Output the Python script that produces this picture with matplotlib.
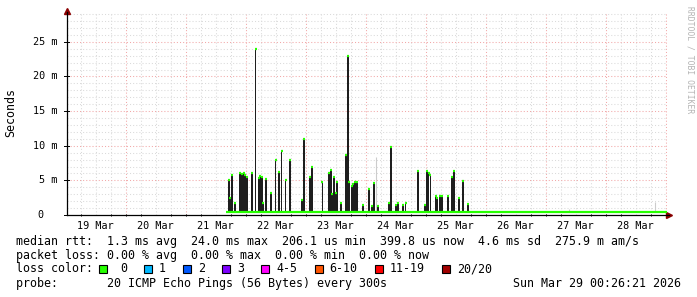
import matplotlib
matplotlib.use("Agg")
import matplotlib.pyplot as plt
import matplotlib.dates as mdates
import pandas as pd
from matplotlib.patches import Rectangle

# median rtt spikes (time, ms)
spike_times = [
    "2026-03-21 17:14", "2026-03-21 17:46", "2026-03-21 18:40", "2026-03-21 19:45",
    "2026-03-21 21:45", "2026-03-21 22:34", "2026-03-21 23:21", "2026-03-21 23:57",
    "2026-03-22 00:33", "2026-03-22 02:33", "2026-03-22 03:58", "2026-03-22 05:10",
    "2026-03-22 05:46", "2026-03-22 06:33", "2026-03-22 07:05", "2026-03-22 08:02",
    "2026-03-22 10:02", "2026-03-22 12:01", "2026-03-22 13:21", "2026-03-22 14:25",
    "2026-03-22 16:01", "2026-03-22 17:45", "2026-03-22 22:40", "2026-03-22 23:21",
    "2026-03-23 01:45", "2026-03-23 02:26", "2026-03-23 06:45", "2026-03-23 09:22",
    "2026-03-23 10:02", "2026-03-23 10:33", "2026-03-23 11:14", "2026-03-23 12:01",
    "2026-03-23 12:26", "2026-03-23 14:02", "2026-03-23 16:02", "2026-03-23 16:50",
    "2026-03-23 17:21", "2026-03-23 18:33", "2026-03-23 19:09", "2026-03-23 19:45",
    "2026-03-23 20:40", "2026-03-23 23:05", "2026-03-24 01:29", "2026-03-24 02:33",
    "2026-03-24 03:29", "2026-03-24 04:50", "2026-03-24 09:29", "2026-03-24 10:02",
    "2026-03-24 12:10", "2026-03-24 12:58", "2026-03-24 14:58", "2026-03-24 15:58",
    "2026-03-24 20:50", "2026-03-24 23:46", "2026-03-25 00:26", "2026-03-25 01:10",
    "2026-03-25 01:57", "2026-03-25 04:02", "2026-03-25 04:45", "2026-03-25 05:46",
    "2026-03-25 06:26", "2026-03-25 09:04", "2026-03-25 10:33", "2026-03-25 11:14",
    "2026-03-25 13:28", "2026-03-25 14:50", "2026-03-25 17:04",
]
spike_ms = [
    5.0, 2.5, 5.8, 1.8,
    6.0, 5.9, 6.0, 5.8,
    5.5, 6.0, 24.0, 5.3,
    5.6, 5.5, 1.8, 5.2,
    3.2, 8.0, 6.2, 9.3,
    5.1, 8.0, 2.2, 11.0,
    5.5, 7.0, 4.8, 6.0,
    6.5, 3.0, 5.5, 3.2,
    4.8, 1.7, 8.7, 23.0,
    4.7, 4.2, 4.5, 4.8,
    4.8, 1.5, 3.7, 1.3,
    4.6, 1.3, 1.8, 9.8,
    1.5, 1.8, 1.5, 1.8,
    6.4, 1.5, 6.3, 6.0,
    5.8, 2.7, 2.5, 2.8,
    2.8, 2.7, 5.5, 6.3,
    2.5, 4.9, 1.6,
]
# light smoke lines
smoke_times = ["2026-03-24 03:58", "2026-03-27 09:23", "2026-03-28 19:45"]
smoke_ms = [8.4, 0.9, 1.9]

baseline_start = "2026-03-21 16:10"
baseline_ms = 0.45
t_start = "2026-03-19 00:26:21"
t_end = "2026-03-29 00:26:21"

y_ticks = [0, 5, 10, 15, 20, 25]
y_labels = ["0", "5 m", "10 m", "15 m", "20 m", "25 m"]
day_labels = ["19 Mar", "20 Mar", "21 Mar", "22 Mar", "23 Mar",
              "24 Mar", "25 Mar", "26 Mar", "27 Mar", "28 Mar"]

legend_lines = [
    "median rtt:  1.3 ms avg  24.0 ms max  206.1 us min  399.8 us now  4.6 ms sd  275.9 m am/s",
    "packet loss: 0.00 % avg  0.00 % max  0.00 % min  0.00 % now",
]
loss_labels = ["0", "1", "2", "3", "4-5", "6-10", "11-19", "20/20"]
loss_colors = ["#26ff00", "#00b8ff", "#0059ff", "#7e00ff", "#ff00ff", "#ff5500", "#ff0000", "#a10000"]
probe_text = "probe:       20 ICMP Echo Pings (56 Bytes) every 300s"
stamp_text = "Sun Mar 29 00:26:21 2026"

W, H = 697, 297
MONO = "DejaVu Sans Mono"
GREEN = "#26ff00"


def fx(x):
    return x / W


def fy(y):
    return 1 - y / H


fig = plt.figure(figsize=(W / 100, H / 100), dpi=100)
fig.patch.set_facecolor("white")
ax = fig.add_axes([fx(66.7), fy(215), 600 / W, 203 / H])

x0, x1 = pd.Timestamp(t_start), pd.Timestamp(t_end)
ax.set_xlim(x0, x1)
ax.set_ylim(0, 29.3)

# grid: 6h minor gray, midnight major red; 1 ms minor, 5 ms major
for t in pd.date_range("2026-03-19 06:00", t_end, freq="6h"):
    major = t.hour == 0
    ax.axvline(t, color="#f2a8a8" if major else "#dadada", lw=0.75, ls=(0, (1, 2)), zorder=0)
for v in range(1, 30):
    ax.axhline(v, color="#f2a8a8" if v % 5 == 0 else "#dadada", lw=0.75, ls=(0, (1, 2)), zorder=0)

# smoke
st = pd.to_datetime(smoke_times)
ax.vlines(st, baseline_ms, smoke_ms, color="#cccccc", lw=0.8, zorder=1)

# spikes
times = pd.to_datetime(spike_times)
w = pd.Timedelta(minutes=40)
ax.bar(times, [m - baseline_ms for m in spike_ms], bottom=baseline_ms, width=w,
       color="#1e1e1e", edgecolor="none", zorder=2)
ax.plot([pd.Timestamp(baseline_start), x1], [baseline_ms, baseline_ms], color=GREEN, lw=1.6,
        solid_capstyle="butt", zorder=3)
ax.hlines(spike_ms, times - w * 0.6, times + w * 0.6, color=GREEN, lw=1.6, zorder=4)

# axes look
for s in ("top", "right"):
    ax.spines[s].set_visible(False)
for s in ("left", "bottom"):
    ax.spines[s].set_color("black")
    ax.spines[s].set_linewidth(0.9)
ax.set_xticks(pd.date_range("2026-03-19 12:00", periods=10, freq="D"))
ax.set_xticklabels(day_labels, fontsize=7.3, family=MONO)
ax.tick_params(axis="x", length=0, pad=4)
ax.set_yticks([])
ax.xaxis.set_minor_locator(mdates.HourLocator(byhour=[0, 6, 12, 18]))
ax.tick_params(axis="x", which="minor", length=2, direction="inout", width=0.7)
for v, lab in zip(y_ticks, y_labels):
    ax.annotate(lab, xy=(0, v), xycoords=("axes fraction", "data"),
                xytext=(-6.7 if v else -16.8, 0), textcoords="offset points",
                ha="right", va="center", fontsize=7.3, family=MONO)
    ax.plot([-0.004, 0.004], [v, v], transform=ax.get_yaxis_transform(), color="black",
            lw=0.7, clip_on=False)

# arrows
ax.plot([0], [1.005], marker="^", ms=4, color="#8b0000", transform=ax.transAxes, clip_on=False)
ax.plot([1.004], [0], marker=">", ms=4, color="#8b0000", transform=ax.transAxes, clip_on=False)
ax.plot([1.0, 1.004], [0, 0], color="black", lw=0.9, transform=ax.transAxes, clip_on=False)

fig.text(fx(11), fy(113), "Seconds", rotation=90, ha="center", va="center", fontsize=8.4, family=MONO)
fig.text(fx(690), fy(60), "RRDTOOL / TOBI OETIKER", rotation=270, ha="center", va="center",
         fontsize=5.8, family=MONO, color="#b4b4b4")

# legend block
fs = 8.4
fig.text(fx(15.5), fy(241), legend_lines[0], ha="left", va="center", fontsize=fs, family=MONO)
fig.text(fx(15.5), fy(255.7), legend_lines[1], ha="left", va="center", fontsize=fs, family=MONO)
fig.text(fx(15.5), fy(269), "loss color:", ha="left", va="center", fontsize=fs, family=MONO)
bx = 99.0
for i, (lab, col) in enumerate(zip(loss_labels, loss_colors)):
    fig.patches.append(Rectangle((fx(bx), fy(272.5)), 8 / W, 8 / H, transform=fig.transFigure,
                                 facecolor=col, edgecolor="black", lw=0.8))
    tx = bx + (21 if i == 0 else 15)
    fig.text(fx(tx), fy(269), lab, ha="left", va="center", fontsize=fs, family=MONO)
    bx = tx + 7.08 * len(lab) + 17
fig.text(fx(15.5), fy(283.3), probe_text, ha="left", va="center", fontsize=fs, family=MONO)
fig.text(fx(681), fy(283.3), stamp_text, ha="right", va="center", fontsize=fs, family=MONO)

fig.savefig("out.png", dpi=100, facecolor="white")
